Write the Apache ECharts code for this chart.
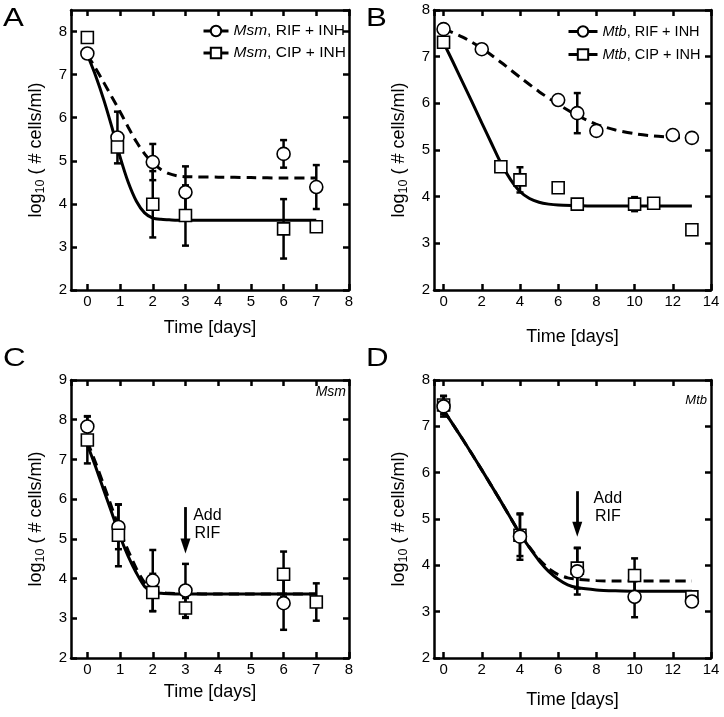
<!DOCTYPE html>
<html><head><meta charset="utf-8">
<script src="https://cdn.jsdelivr.net/npm/echarts@6/dist/echarts.min.js"></script>
<style>html,body{margin:0;padding:0;background:#fff}#c{width:724px;height:717px}</style>
</head><body><div id="c"></div>
<script>
// ---------- Panel A (Msm) ----------
const aX = [0, 0.92, 2, 3, 6, 7];
const aRifY = [7.49, 5.54, 4.97, 4.27, 5.16, 4.39];
const aRifErr = [0, 0.6, 0.42, 0.6, 0.32, 0.51];
const aCipY = [7.86, 5.32, 3.99, 3.73, 3.42, 3.47];
const aCipErr = [0, 0, 0.77, 0.7, 0.69, 0];
const aFitX = [0, 0.25, 0.5, 0.75, 1, 1.25, 1.5, 1.75, 2, 2.25, 2.5, 2.75, 3, 4, 5, 6, 7];
const aRifFitY = [7.46, 7.15, 6.82, 6.48, 6.14, 5.78, 5.44, 5.16, 4.95, 4.8, 4.7, 4.65, 4.63, 4.62, 4.61, 4.6, 4.6];
const aCipFitY = [7.46, 6.98, 6.42, 5.78, 5.09, 4.5, 4.06, 3.79, 3.67, 3.64, 3.63, 3.62, 3.62, 3.62, 3.62, 3.62, 3.62];

// ---------- Panel B (Mtb) ----------
const bRifX = [0, 2, 6, 7, 8, 12, 13];
const bRifY = [7.59, 7.16, 6.07, 5.79, 5.41, 5.32, 5.26];
const bRifErr = [0, 0.07, 0, 0.43, 0, 0, 0];
const bCipX = [0, 3, 4, 6, 7, 10, 11, 13];
const bCipY = [7.31, 4.64, 4.36, 4.19, 3.84, 3.84, 3.86, 3.29];
const bCipErr = [0, 0.1, 0.27, 0, 0, 0.15, 0, 0];
const bRifFitX = [0, 1, 2, 3, 4, 5, 6, 7, 8, 9, 10, 11, 12, 13];
const bRifFitY = [7.6, 7.42, 7.18, 6.88, 6.56, 6.25, 5.98, 5.74, 5.55, 5.43, 5.35, 5.3, 5.27, 5.25];
const bCipFitX = [0, 0.5, 1, 1.5, 2, 2.5, 3, 3.5, 4, 4.5, 5, 5.5, 6, 7, 8, 9, 10, 11, 12, 13];
const bCipFitY = [7.3, 6.88, 6.45, 6.02, 5.58, 5.15, 4.72, 4.37, 4.11, 3.96, 3.88, 3.84, 3.82, 3.81, 3.8, 3.8, 3.8, 3.8, 3.8, 3.8];

// ---------- Panel C (Msm, add RIF) ----------
const cRifX = [0, 0.95, 2, 3, 6];
const cRifY = [7.83, 5.3, 3.95, 3.7, 3.38];
const cRifErr = [0.26, 0.56, 0.77, 0.67, 0.67];
const cCipX = [0, 0.95, 2, 3, 6, 7];
const cCipY = [7.49, 5.09, 3.65, 3.26, 4.11, 3.41];
const cCipErr = [0.59, 0.78, 0.47, 0.25, 0.57, 0.47];
const cFitX = [0, 0.25, 0.5, 0.75, 1, 1.25, 1.5, 1.75, 2, 2.25, 2.5, 3, 4, 5, 6, 7];
const cSolidY = [7.37, 6.82, 6.23, 5.65, 5.06, 4.56, 4.14, 3.8, 3.66, 3.63, 3.62, 3.61, 3.61, 3.61, 3.61, 3.61];
const cDashY = [7.45, 6.92, 6.36, 5.78, 5.2, 4.7, 4.25, 3.9, 3.72, 3.65, 3.63, 3.62, 3.61, 3.61, 3.61, 3.61];
const cArrow = [3, 5.8, 4.82];      // x, top, head centre
const cNote = [3.67, 5.35];

// ---------- Panel D (Mtb, add RIF) ----------
const dX = [0, 4, 7, 10, 13];
const dRifY = [7.43, 4.62, 3.87, 3.32, 3.22];
const dRifErr = [0.22, 0.5, 0.5, 0.44, 0];
const dCipY = [7.46, 4.65, 3.94, 3.78, 3.32];
const dCipErr = [0.2, 0.45, 0.44, 0.37, 0];
const dFitX = [0, 1, 2, 3, 4, 4.5, 5, 5.5, 6, 6.5, 7, 8, 9, 10, 11, 12, 13];
const dSolidY = [7.35, 6.72, 6.06, 5.38, 4.68, 4.38, 4.1, 3.87, 3.7, 3.58, 3.52, 3.47, 3.45, 3.44, 3.44, 3.44, 3.44];
const dDashY = [7.35, 6.72, 6.06, 5.38, 4.68, 4.39, 4.13, 3.93, 3.8, 3.73, 3.7, 3.67, 3.66, 3.66, 3.66, 3.66, 3.66];
const dArrow = [7, 5.6, 4.78];
const dNote = [8.6, 5.24];

const noteText = 'Add\nRIF';
const xTitle = 'Time [days]';
const yTitle = '{a|log}{s|10}{a| ( # cells/ml)}';
const legendA = ['Msm, RIF + INH', 'Msm, CIP + INH'];
const legendB = ['Mtb, RIF + INH', 'Mtb, CIP + INH'];

const FONT = '"Liberation Sans", Arial, sans-serif';
const zip = (xs, ys) => xs.map((x, i) => [x, ys[i]]);
const errData = (xs, ys, es) => xs.map((x, i) => [x, ys[i] - es[i], ys[i] + es[i]]).filter((d, i) => es[i] > 0);

function renderErr(params, api) {
  const x = api.value(0), lo = api.value(1), hi = api.value(2);
  const p1 = api.coord([x, hi]), p2 = api.coord([x, lo]);
  const w = 3.5;
  const style = { stroke: '#000', lineWidth: 2.5 };
  return { type: 'group', children: [
    { type: 'line', shape: { x1: p1[0], y1: p1[1], x2: p2[0], y2: p2[1] }, style },
    { type: 'line', shape: { x1: p1[0] - w, y1: p1[1], x2: p1[0] + w, y2: p1[1] }, style },
    { type: 'line', shape: { x1: p2[0] - w, y1: p2[1], x2: p2[0] + w, y2: p2[1] }, style }
  ]};
}
function renderNote(params, api) {
  const p = api.coord([api.value(0), api.value(1)]);
  return { type: 'text', x: p[0], y: p[1], style: { text: noteText, fill: '#000', fontSize: 16, lineHeight: 18,
    fontFamily: FONT, align: 'center', verticalAlign: 'middle' } };
}

const grids = [
  { left: 71, top: 10, width: 278, height: 280 },
  { left: 434, top: 10, width: 277, height: 280 },
  { left: 71, top: 380, width: 278, height: 278 },
  { left: 434, top: 380, width: 277, height: 278 }
];
const xCfg = [
  { max: 8, step: 1, gap: 29 }, { max: 14, step: 2, gap: 38 },
  { max: 8, step: 1, gap: 25 }, { max: 14, step: 2, gap: 33 }
];
const yCfg = [{ max: 8.5 }, { max: 8 }, { max: 9 }, { max: 8 }];

const tickStyle = { show: true, inside: true, length: 6, lineStyle: { color: '#000', width: 2.5 } };
const lineAx = { show: true, onZero: false, lineStyle: { color: '#000', width: 2.5 } };
const lab = { color: '#000', fontSize: 15, fontFamily: FONT };

const xAxis = [], yAxis = [];
grids.forEach((g, i) => {
  const xc = xCfg[i];
  xAxis.push({ type: 'value', gridIndex: i, min: -0.5, max: xc.max, minInterval: xc.step, maxInterval: xc.step,
    splitNumber: xc.max / xc.step, position: 'bottom', axisLine: lineAx, axisTick: tickStyle, splitLine: { show: false },
    axisLabel: Object.assign({ margin: 4, showMinLabel: false }, lab),
    name: xTitle, nameLocation: 'middle', nameGap: xc.gap, nameTextStyle: { fontSize: 18, color: '#000', fontFamily: FONT } });
  xAxis.push({ type: 'value', gridIndex: i, min: -0.5, max: xc.max, minInterval: xc.step, maxInterval: xc.step,
    splitNumber: xc.max / xc.step, position: 'top', axisLine: lineAx, axisTick: tickStyle, splitLine: { show: false },
    axisLabel: { show: false } });
  yAxis.push({ type: 'value', gridIndex: i, min: 2, max: yCfg[i].max, interval: 1, position: 'left',
    axisLine: lineAx, axisTick: tickStyle, splitLine: { show: false },
    axisLabel: Object.assign({ margin: 4, showMaxLabel: yCfg[i].max % 1 === 0 }, lab),
    name: yTitle, nameLocation: 'middle', nameGap: 24, nameRotate: 90,
    nameTextStyle: { color: '#000', fontFamily: FONT, rich: {
      a: { fontSize: 18, lineHeight: 22, verticalAlign: 'middle', fontFamily: FONT, color: '#000' },
      s: { fontSize: 12.5, lineHeight: 12, padding: [6, 0, 0, 0], verticalAlign: 'bottom', fontFamily: FONT, color: '#000' } } } });
  yAxis.push({ type: 'value', gridIndex: i, min: 2, max: yCfg[i].max, interval: 1, position: 'right',
    axisLine: lineAx, axisTick: tickStyle, splitLine: { show: false }, axisLabel: { show: false } });
});

const series = [];
function fit(i, xs, ys, dashed) {
  series.push({ type: 'line', xAxisIndex: 2 * i, yAxisIndex: 2 * i, data: zip(xs, ys), showSymbol: false, symbol: 'none',
    smooth: 0.25, z: 2, silent: true,
    lineStyle: { color: '#000', width: 3, type: dashed ? [10, 6] : 'solid' } });
}
function errs(i, xs, ys, es) {
  series.push({ type: 'custom', xAxisIndex: 2 * i, yAxisIndex: 2 * i, data: errData(xs, ys, es), renderItem: renderErr, z: 3, silent: true });
}
function pts(i, name, xs, ys, sym, z) {
  series.push({ type: 'line', name, xAxisIndex: 2 * i, yAxisIndex: 2 * i, data: zip(xs, ys), symbol: sym, symbolSize: sym === 'circle' ? 13 : 12,
    showSymbol: true, showAllSymbol: true, z, lineStyle: { opacity: 0, width: 0 },
    itemStyle: { color: '#fff', borderColor: '#000', borderWidth: 1.6 } });
}
function note(i, arrow, pos) {
  series.push({ type: 'custom', xAxisIndex: 2 * i, yAxisIndex: 2 * i, data: [pos], renderItem: renderNote, silent: true, z: 5,
    markLine: { silent: true, symbolSize: [10, 15], label: { show: false },
      lineStyle: { color: '#000', width: 2.8, type: 'solid' },
      data: [[{ coord: [arrow[0], arrow[1]], symbol: 'none' }, { coord: [arrow[0], arrow[2]], symbol: 'path://M5,0L10,14L0,14Z' }]] } });
}

// A
fit(0, aFitX, aRifFitY, true); fit(0, aFitX, aCipFitY, false);
errs(0, aX, aRifY, aRifErr); errs(0, aX, aCipY, aCipErr);
pts(0, legendA[0], aX, aRifY, 'circle', 4); pts(0, legendA[1], aX, aCipY, 'rect', 5);
// B
fit(1, bRifFitX, bRifFitY, true); fit(1, bCipFitX, bCipFitY, false);
errs(1, bRifX, bRifY, bRifErr); errs(1, bCipX, bCipY, bCipErr);
pts(1, legendB[0], bRifX, bRifY, 'circle', 4); pts(1, legendB[1], bCipX, bCipY, 'rect', 5);
// C
fit(2, cFitX, cDashY, true); fit(2, cFitX, cSolidY, false);
errs(2, cRifX, cRifY, cRifErr); errs(2, cCipX, cCipY, cCipErr);
pts(2, 'C RIF', cRifX, cRifY, 'circle', 4); pts(2, 'C CIP', cCipX, cCipY, 'rect', 5);
note(2, cArrow, cNote);
// D
fit(3, dFitX, dDashY, true); fit(3, dFitX, dSolidY, false);
errs(3, dX, dCipY, dCipErr); errs(3, dX, dRifY, dRifErr);
pts(3, 'D CIP', dX, dCipY, 'rect', 4); pts(3, 'D RIF', dX, dRifY, 'circle', 5);
note(3, dArrow, dNote);

const legStyle = fs => ({ color: '#000', fontSize: fs, fontFamily: FONT, rich: { i: { fontStyle: 'italic', fontSize: fs, fontFamily: FONT, color: '#000' } } });
const legFmt = n => n.replace(/^(Msm|Mtb)/, '{i|$1}');
const legLine = { color: '#000', width: 3, type: 'solid', opacity: 1 };

const letter = (t, x, y) => ({ type: 'text', left: x, top: y, scaleX: 1.25, style: { text: t, fontSize: 25, fontFamily: FONT, fill: '#000' } });
const option = {
  animation: false,
  backgroundColor: '#fff',
  grid: grids.map(g => Object.assign({ show: false, containLabel: false }, g)),
  xAxis, yAxis, series,
  legend: [
    { data: legendA, orient: 'vertical', left: 202, top: 23, itemWidth: 25, itemHeight: 13, itemGap: 6, padding: 0,
      formatter: legFmt, textStyle: legStyle(15.5), lineStyle: legLine, selectedMode: false },
    { data: legendB, orient: 'vertical', left: 567, top: 24, itemWidth: 29, itemHeight: 13, itemGap: 8, padding: 0,
      formatter: legFmt, textStyle: legStyle(14.5), lineStyle: legLine, selectedMode: false }
  ],
  graphic: [
    letter('A', 3, 7), letter('B', 366, 7), letter('C', 3, 347), letter('D', 366, 347),
    { type: 'text', right: 724 - 346, top: 385, style: { text: 'Msm', fontSize: 14, fontStyle: 'italic', fontFamily: FONT, fill: '#000' } },
    { type: 'text', right: 724 - 707, top: 394, style: { text: 'Mtb', fontSize: 13, fontStyle: 'italic', fontFamily: FONT, fill: '#000' } }
  ]
};
echarts.init(document.getElementById('c'), null, { renderer: 'canvas' }).setOption(option);
</script></body></html>
